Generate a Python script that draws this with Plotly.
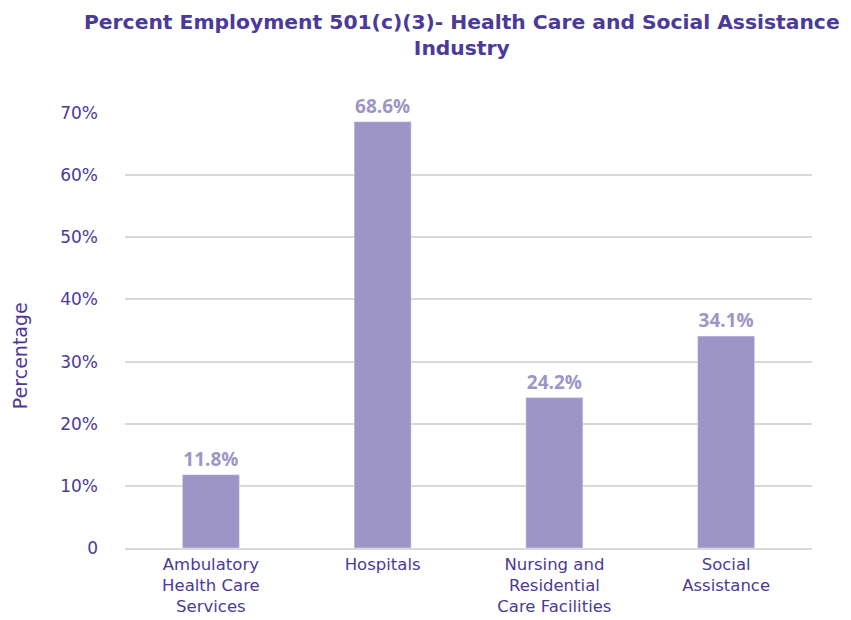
import plotly.graph_objects as go

categories = ["Ambulatory<br>Health Care<br>Services", "Hospitals",
              "Nursing and<br>Residential<br>Care Facilities", "Social<br>Assistance"]
values = [11.8, 68.6, 24.2, 34.1]
value_labels = ["11.8%", "68.6%", "24.2%", "34.1%"]
tick_vals = [0, 10, 20, 30, 40, 50, 60, 70]
tick_text = ["0", "10%", "20%", "30%", "40%", "50%", "60%", "70%"]

FONT = "DejaVu Sans"
LABEL_FONT = "Open Sans"
TXT = "#4B3A99"
BAR = "#9E95C7"

fig = go.Figure(go.Bar(
    x=categories, y=values, text=value_labels, textposition="outside",
    marker_color=BAR, cliponaxis=False,
    textfont=dict(family=LABEL_FONT, size=19, color=BAR, weight="bold"),
))

# page body has an 8px margin, so the figure is sized/offset to compensate
fig.update_layout(
    width=843, height=612,
    margin=dict(l=117, r=39, t=105, b=72),
    paper_bgcolor="white", plot_bgcolor="white",
    bargap=0.668,
    showlegend=False,
    font=dict(family=FONT, color=TXT),
    annotations=[
        dict(text="<b>Percent Employment 501(c)(3)- Health Care and Social Assistance<br>Industry</b>",
             xref="paper", yref="paper", x=0.49, y=1, xanchor="center", yanchor="bottom",
             yshift=51, showarrow=False, align="center",
             font=dict(family=FONT, size=20.3, color=TXT)),
        dict(text="Percentage", xref="paper", yref="paper", x=0, y=0.441,
             xanchor="center", yanchor="middle", xshift=-105, textangle=-90,
             showarrow=False, font=dict(family=FONT, size=19, color=TXT)),
    ],
)
fig.update_yaxes(range=[0, 70], tickvals=tick_vals, ticktext=tick_text,
                 showgrid=True, gridcolor="#D9D9D9", gridwidth=1.5,
                 zeroline=False, ticklabelstandoff=26, automargin=False,
                 tickfont=dict(family=FONT, size=17, color=TXT))
fig.update_xaxes(showline=True, linecolor="#D9D9D9", linewidth=1.5, automargin=False,
                 tickfont=dict(family=FONT, size=16.5, color=TXT))

fig.write_html("out.html")
